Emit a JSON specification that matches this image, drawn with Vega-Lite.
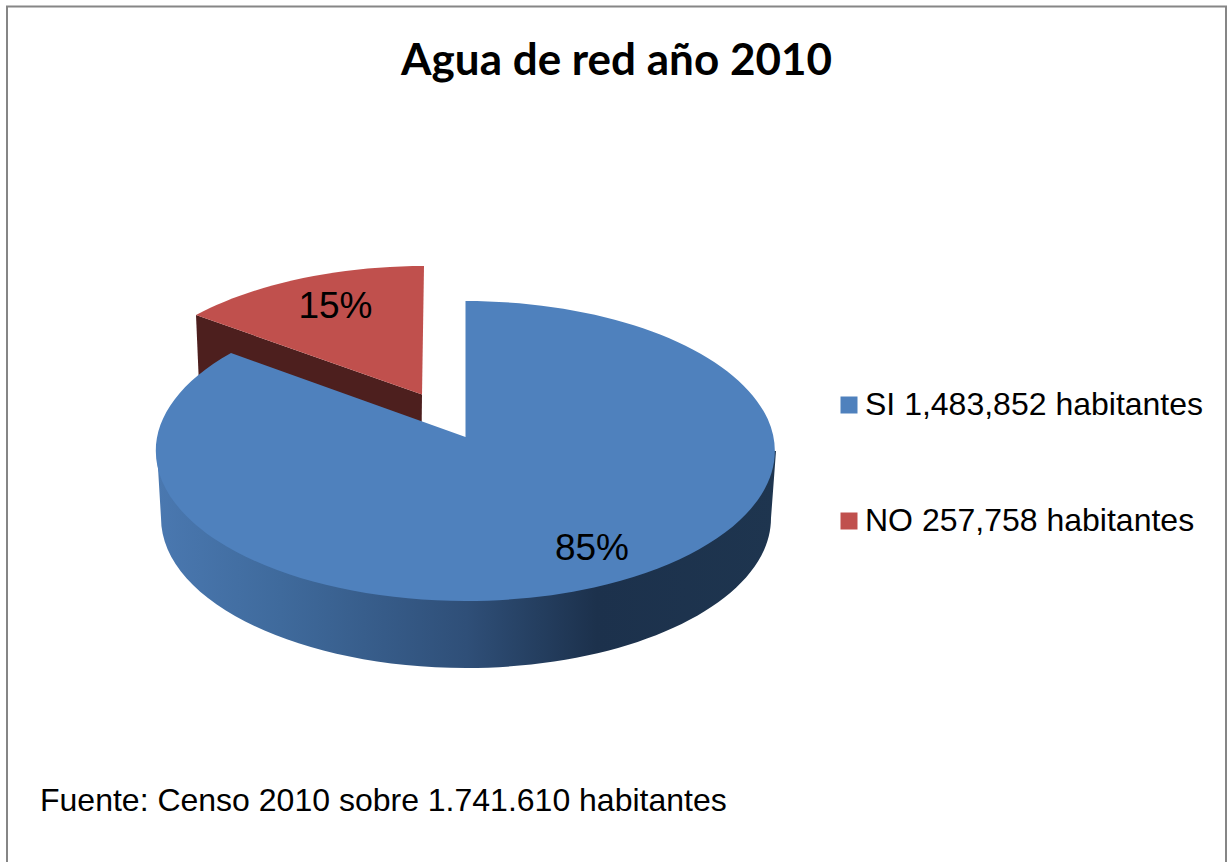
{"$schema":"https://vega.github.io/schema/vega-lite/v6.json","width":1229,"height":862,"padding":0,"autosize":{"type":"none"},"background":"white","config":{"view":{"stroke":null}},"title":{"text":"Agua de red año 2010","font":"Lato","fontWeight":"bold","fontSize":44,"color":"black","anchor":"middle","frame":"group","baseline":"middle","offset":-106,"dx":2},"data":{"values":[{"categoria":"SI 1,483,852 habitantes","habitantes":1483852,"porcentaje":"85%"},{"categoria":"NO 257,758 habitantes","habitantes":257758,"porcentaje":"15%"}]},"layer":[{"data":{"values":[{"marco":"borde"}]},"mark":{"type":"point","shape":"M-607.5 431 L-607.5 -424.5 L611.5 -424.5 L611.5 431","size":4,"filled":false,"opacity":1,"stroke":"#868686","strokeWidth":2},"encoding":{}},{"transform":[{"filter":"datum.habitantes < 500000"}],"mark":{"type":"point","shape":"M-418.5 -116 L-415.5 -46 L-192.8 -8 L-192.5 -36.5 Z","size":4,"filled":true,"opacity":1,"fill":"#4d1f1e","strokeWidth":0},"encoding":{}},{"transform":[{"filter":"datum.habitantes > 500000"}],"mark":{"type":"point","shape":"M-457.5 20 L-453.5 87 A305 150 0 0 0 156.5 87 L161.5 20 Z","size":4,"filled":true,"opacity":1,"strokeWidth":0,"fill":{"gradient":"linear","x1":0,"x2":1,"y1":0,"y2":0,"stops":[{"offset":0,"color":"#4a78b0"},{"offset":0.2,"color":"#3f6a9c"},{"offset":0.5,"color":"#2f4f78"},{"offset":0.71,"color":"#1c314c"},{"offset":1,"color":"#1e354f"}]}},"encoding":{}},{"mark":{"type":"point","size":4,"filled":true,"opacity":1,"strokeWidth":0},"encoding":{"fill":{"field":"categoria","type":"nominal","scale":{"domain":["SI 1,483,852 habitantes","NO 257,758 habitantes"],"range":["#4f81bd","#c0504d"]},"legend":{"orient":"none","legendX":833,"legendY":389,"title":null,"symbolType":"square","symbolSize":289,"symbolStrokeWidth":0,"labelFont":"Liberation Sans","labelFontSize":32,"labelColor":"black","labelOffset":0,"rowPadding":84,"labelLimit":500}},"shape":{"field":"habitantes","type":"nominal","legend":null,"scale":{"domain":[1483852,257758],"range":["M-149 -130 A309.5 150 0 1 1 -383.5 -78 L-149 6 Z","M-190.5 -165 A309.5 150 0 0 0 -418.5 -116 L-192.5 -36.5 Z"]}}}},{"transform":[{"filter":"datum.habitantes > 500000"}],"mark":{"type":"text","font":"Liberation Sans","fontSize":37,"color":"black","align":"center","baseline":"middle","dx":-22.5,"dy":118},"encoding":{"text":{"field":"porcentaje"}}},{"transform":[{"filter":"datum.habitantes < 500000"}],"mark":{"type":"text","font":"Liberation Sans","fontSize":37,"color":"black","align":"center","baseline":"middle","dx":-279,"dy":-124},"encoding":{"text":{"field":"porcentaje"}}},{"data":{"values":[{"nota":"Fuente: Censo 2010 sobre 1.741.610 habitantes"}]},"mark":{"type":"text","font":"Liberation Sans","fontSize":32,"color":"black","align":"left","baseline":"middle","dx":-574.5,"dy":370},"encoding":{"text":{"field":"nota"}}}]}
